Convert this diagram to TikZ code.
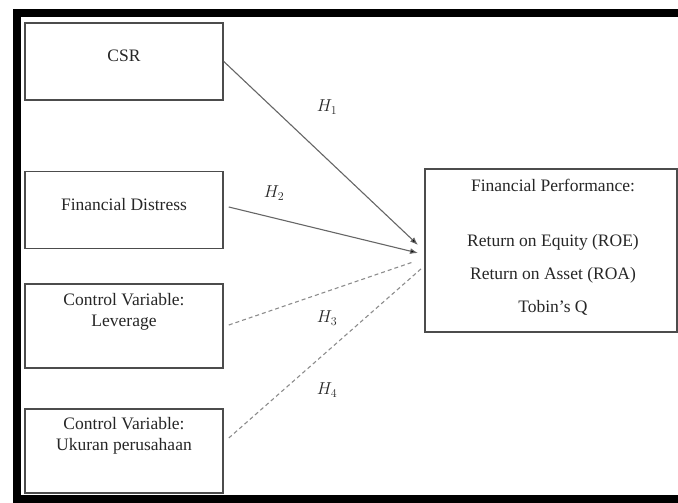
\documentclass[tikz,border=0pt]{standalone}
\usepackage{fontspec}
\setmainfont{Liberation Serif}
\usetikzlibrary{arrows.meta}

\begin{document}
\begin{tikzpicture}
[
	x=1pt, y=-1pt,
	box/.style={draw=black!70,line width=1.6pt,minimum width=198pt,minimum height=77pt,inner sep=0pt},
	txt/.style={text=black!85,font=\fontsize{17.5}{21}\selectfont,align=center,inner sep=0pt},
	hyp/.style={-{Latex[length=8pt,width=6pt,fill=black]},draw=black!60,line width=1.1pt},
	ctrl/.style={draw=black!45,line width=1.1pt,dash pattern=on 4pt off 3pt}
]

	% frame
	\clip (0,0) rectangle (678,503);
	\draw[line width=8pt] (17,13) rectangle (720,499);

	% boxes
	\node[box] (csr) at (124,61.5) {};
	\node[box] (fd) at (124,210) {};
	\node[box,minimum height=84pt] (lev) at (124,326) {};
	\node[box,minimum height=84pt] (size) at (124,451) {};
	\node[box,minimum width=252pt,minimum height=163pt] (perf) at (551,250.5) {};

	% texts
	\node[txt] (csr-t) at (124,56) {CSR};
	\node[txt] (fd-t) at (124,205) {Financial Distress};
	\node[txt] (lev-t) at (124,312) {Control Variable:\\Leverage};
	\node[txt] (size-t) at (124,436) {Control Variable:\\Ukuran perusahaan};
	\node[txt] (perf-t) at (553,185) {Financial Performance:};
	\node[txt] (roe) at (553,242) {Return on Equity (ROE)};
	\node[txt] (roa) at (553,275) {Return on Asset (ROA)};
	\node[txt] (tq) at (553,308) {Tobin’s Q};

	% hypotheses
	\coordinate (in1) at (418,245);
	\coordinate (in2) at (418,253);
	\coordinate (in3) at (413,262);
	\coordinate (in4) at (422,268);
	\draw[hyp] (csr.east) -- (in1);
	\draw[hyp] ([shift={(5,-3)}]fd.east) -- (in2);
	\draw[ctrl] ([shift={(5,-1)}]lev.east) -- (in3);
	\draw[ctrl] ([shift={(5,-13)}]size.east) -- (in4);
	\node[txt] (h1) at (327,107) {$H_1$};
	\node[txt] (h2) at (274,193) {$H_2$};
	\node[txt] (h3) at (327,318) {$H_3$};
	\node[txt] (h4) at (327,390) {$H_4$};

\end{tikzpicture}
\end{document}
